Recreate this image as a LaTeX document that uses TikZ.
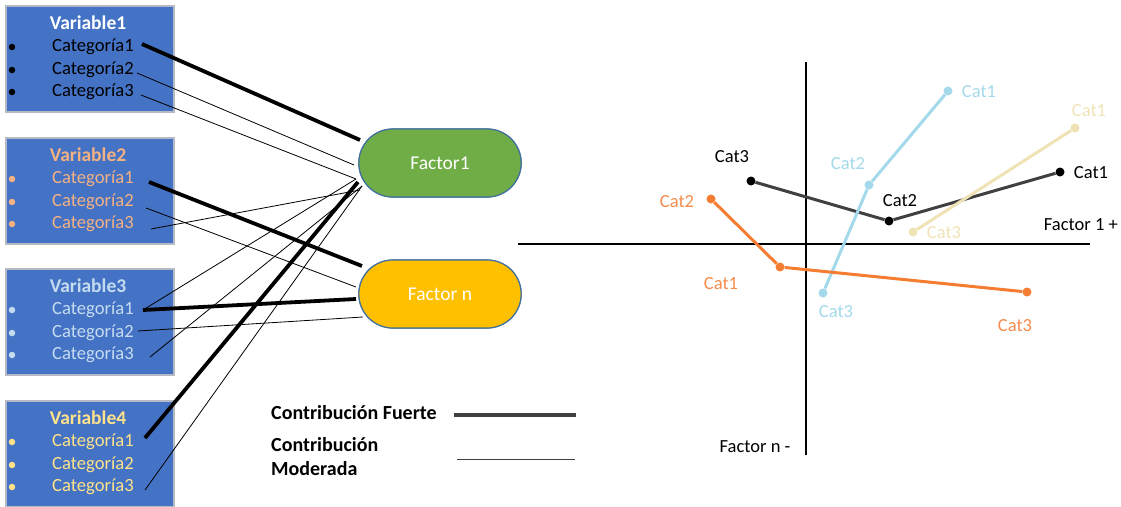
\documentclass[tikz,border=0pt]{standalone}
\usepackage{fontspec}
\setmainfont{Carlito}
\usetikzlibrary{shapes.misc}
\definecolor{boxblue}{HTML}{4472C4}
\definecolor{boxborder}{HTML}{B4B9C4}
\definecolor{v2col}{HTML}{F4B183}
\definecolor{v3col}{HTML}{C5DCF0}
\definecolor{v4col}{HTML}{FFE28A}
\definecolor{fgreen}{HTML}{70AD47}
\definecolor{fyellow}{HTML}{FFC000}
\definecolor{fborder}{HTML}{41719C}
\definecolor{sblack}{HTML}{404040}
\definecolor{sblue}{HTML}{A3D9EA}
\definecolor{sbeige}{HTML}{EFE3B6}
\definecolor{sorange}{HTML}{F47D32}
\definecolor{lorange}{HTML}{F58C4E}
\begin{document}
\begin{tikzpicture}[x=1pt,y=-1pt,
  varbox/.style={draw=boxborder, line width=1.5pt, fill=boxblue, minimum width=168pt, minimum height=106pt, anchor=north west, inner sep=0pt},
  vtitle/.style={inner sep=0pt, font=\fontsize{19.5}{21}\selectfont\bfseries},
  cattext/.style={anchor=west, inner sep=0pt, font=\fontsize{18.6}{20}\selectfont},
  bul/.style={circle, inner sep=0pt, minimum size=6.5pt},
  factor/.style={rounded rectangle, draw=fborder, line width=1.2pt, minimum width=169pt, minimum height=68pt, text=white, font=\fontsize{19.5}{21}\selectfont},
  strong/.style={line width=3.8pt, black},
  moder/.style={line width=0.8pt, black},
  pt/.style={circle, inner sep=0pt, minimum size=9pt},
  lbl/.style={inner sep=0pt, font=\fontsize{18.5}{20}\selectfont},
  axis/.style={line width=2.6pt, black},
  ser/.style={line width=3pt}
]
\useasboundingbox (0,0) rectangle (1121,506);

% variable boxes
\node[varbox] (v1) at (5,5) {};
\node[varbox] (v2) at (5,137) {};
\node[varbox] (v3) at (5,268) {};
\node[varbox] (v4) at (5,400) {};

% titles
\node[vtitle, text=white] (t1) at (88,23) {Variable1};
\node[vtitle, text=v2col] (t2) at (88,155) {Variable2};
\node[vtitle, text=v3col] (t3) at (88,286) {Variable3};
\node[vtitle, text=v4col] (t4) at (88,418) {Variable4};

% categories
\foreach \v/\y/\c in {1/5/black, 2/137/v2col, 3/268/v3col, 4/400/v4col}{
  \foreach \k/\dy in {1/42, 2/65, 3/87}{
    \node[bul, fill=\c] (b\v\k) at (12,\y+\dy) {};
    \node[cattext, text=\c] (c\v\k) at (52,\y+\dy) {Categoría\k};
  }
}

% factors
\node[factor, fill=fgreen] (f1) at (440,163) {Factor1};
\node[factor, fill=fyellow] (fn) at (440,294) {Factor n};

% connector end points
\coordinate (a11) at (142,44);
\coordinate (a12) at (137,73);
\coordinate (a13) at (141,95);
\coordinate (a21) at (149,182);
\coordinate (a22) at (146,208);
\coordinate (a23) at (151,229);
\coordinate (a31) at (143,310);
\coordinate (a32) at (138,331);
\coordinate (a33) at (150,357);
\coordinate (a41) at (145,438);
\coordinate (a43) at (145,490);

\coordinate (p1a) at (360,140);
\coordinate (p1b) at (354,165);
\coordinate (p1c) at (356,179);
\coordinate (p1d) at (360,190);
\coordinate (p1e) at (358,182);
\coordinate (p1f) at (362,186);
\coordinate (pna) at (362,266);
\coordinate (pnb) at (356,287);
\coordinate (pnc) at (356,299);
\coordinate (pnd) at (363,317);

% connectors
\draw[strong] (a11) -- (p1a);
\draw[moder] (a12) -- (p1b);
\draw[moder] (a13) -- (p1c);
\draw[strong] (a21) -- (pna);
\draw[moder] (a22) -- (pnb);
\draw[moder] (a23) -- (p1d);
\draw[strong] (a31) -- (pnc);
\draw[moder] (a31) -- (p1c);
\draw[moder] (a32) -- (pnd);
\draw[moder] (a33) -- (p1f);
\draw[strong] (a41) -- (p1e);
\draw[moder] (a43) -- (p1f);

% redraw factors on top
\node[factor, fill=fgreen] at (440,163) {Factor1};
\node[factor, fill=fyellow] at (440,294) {Factor n};

% legend
\node[inner sep=0pt, anchor=west, font=\fontsize{20}{21}\selectfont\bfseries] (lf) at (271,413) {Contribución Fuerte};
\node[inner sep=0pt, anchor=north west, align=left, font=\fontsize{20}{24}\selectfont\bfseries] (lm) at (271,437) {Contribución\\Moderada};
\coordinate (lfa) at (454,415);
\coordinate (lfb) at (576,415);
\coordinate (lma) at (457,459);
\coordinate (lmb) at (575,459);
\draw[line width=3.5pt, sblack] (lfa) -- (lfb);
\draw[line width=1pt, sblack] (lma) -- (lmb);

% axes
\coordinate (xl) at (518,244);
\coordinate (xr) at (1090,244);
\coordinate (yt) at (806,62);
\coordinate (yb) at (806,455);
\draw[axis] (xl) -- (xr);
\draw[axis] (yt) -- (yb);
\node[lbl, anchor=east] (fx) at (1118,225) {Factor 1 +};
\node[lbl] (fy) at (755,447) {Factor n -};

% black series
\node[pt, fill=black] (k3) at (751,181) {};
\node[pt, fill=black] (k2) at (889,221) {};
\node[pt, fill=black] (k1) at (1060,172) {};
\draw[ser, sblack] (k3) -- (k2) -- (k1);
\node[lbl] at (732,157) {Cat3};
\node[lbl] at (900,201) {Cat2};
\node[lbl] at (1091,173) {Cat1};

% beige series
\node[pt, fill=sbeige] (e1) at (1075,128) {};
\node[pt, fill=sbeige] (e3) at (913,232) {};
\draw[ser, sbeige] (e1) -- (e3);
\node[lbl, text=sbeige] at (1089,111) {Cat1};
\node[lbl, text=sbeige] at (944,233) {Cat3};

% blue series
\node[pt, fill=sblue] (u1) at (948,91) {};
\node[pt, fill=sblue] (u2) at (869,185) {};
\node[pt, fill=sblue] (u3) at (823,293) {};
\draw[ser, sblue] (u1) -- (u2) -- (u3);
\node[lbl, text=sblue] at (979,92) {Cat1};
\node[lbl, text=sblue] at (848,164) {Cat2};
\node[lbl, text=sblue] at (836,312) {Cat3};

% orange series
\node[pt, fill=sorange] (o2) at (711,199) {};
\node[pt, fill=sorange] (o1) at (780,267) {};
\node[pt, fill=sorange] (o3) at (1027,292) {};
\draw[ser, sorange] (o2) -- (o1) -- (o3);
\node[lbl, text=lorange] at (677,202) {Cat2};
\node[lbl, text=lorange] at (721,284) {Cat1};
\node[lbl, text=lorange] at (1015,326) {Cat3};
\end{tikzpicture}
\end{document}
